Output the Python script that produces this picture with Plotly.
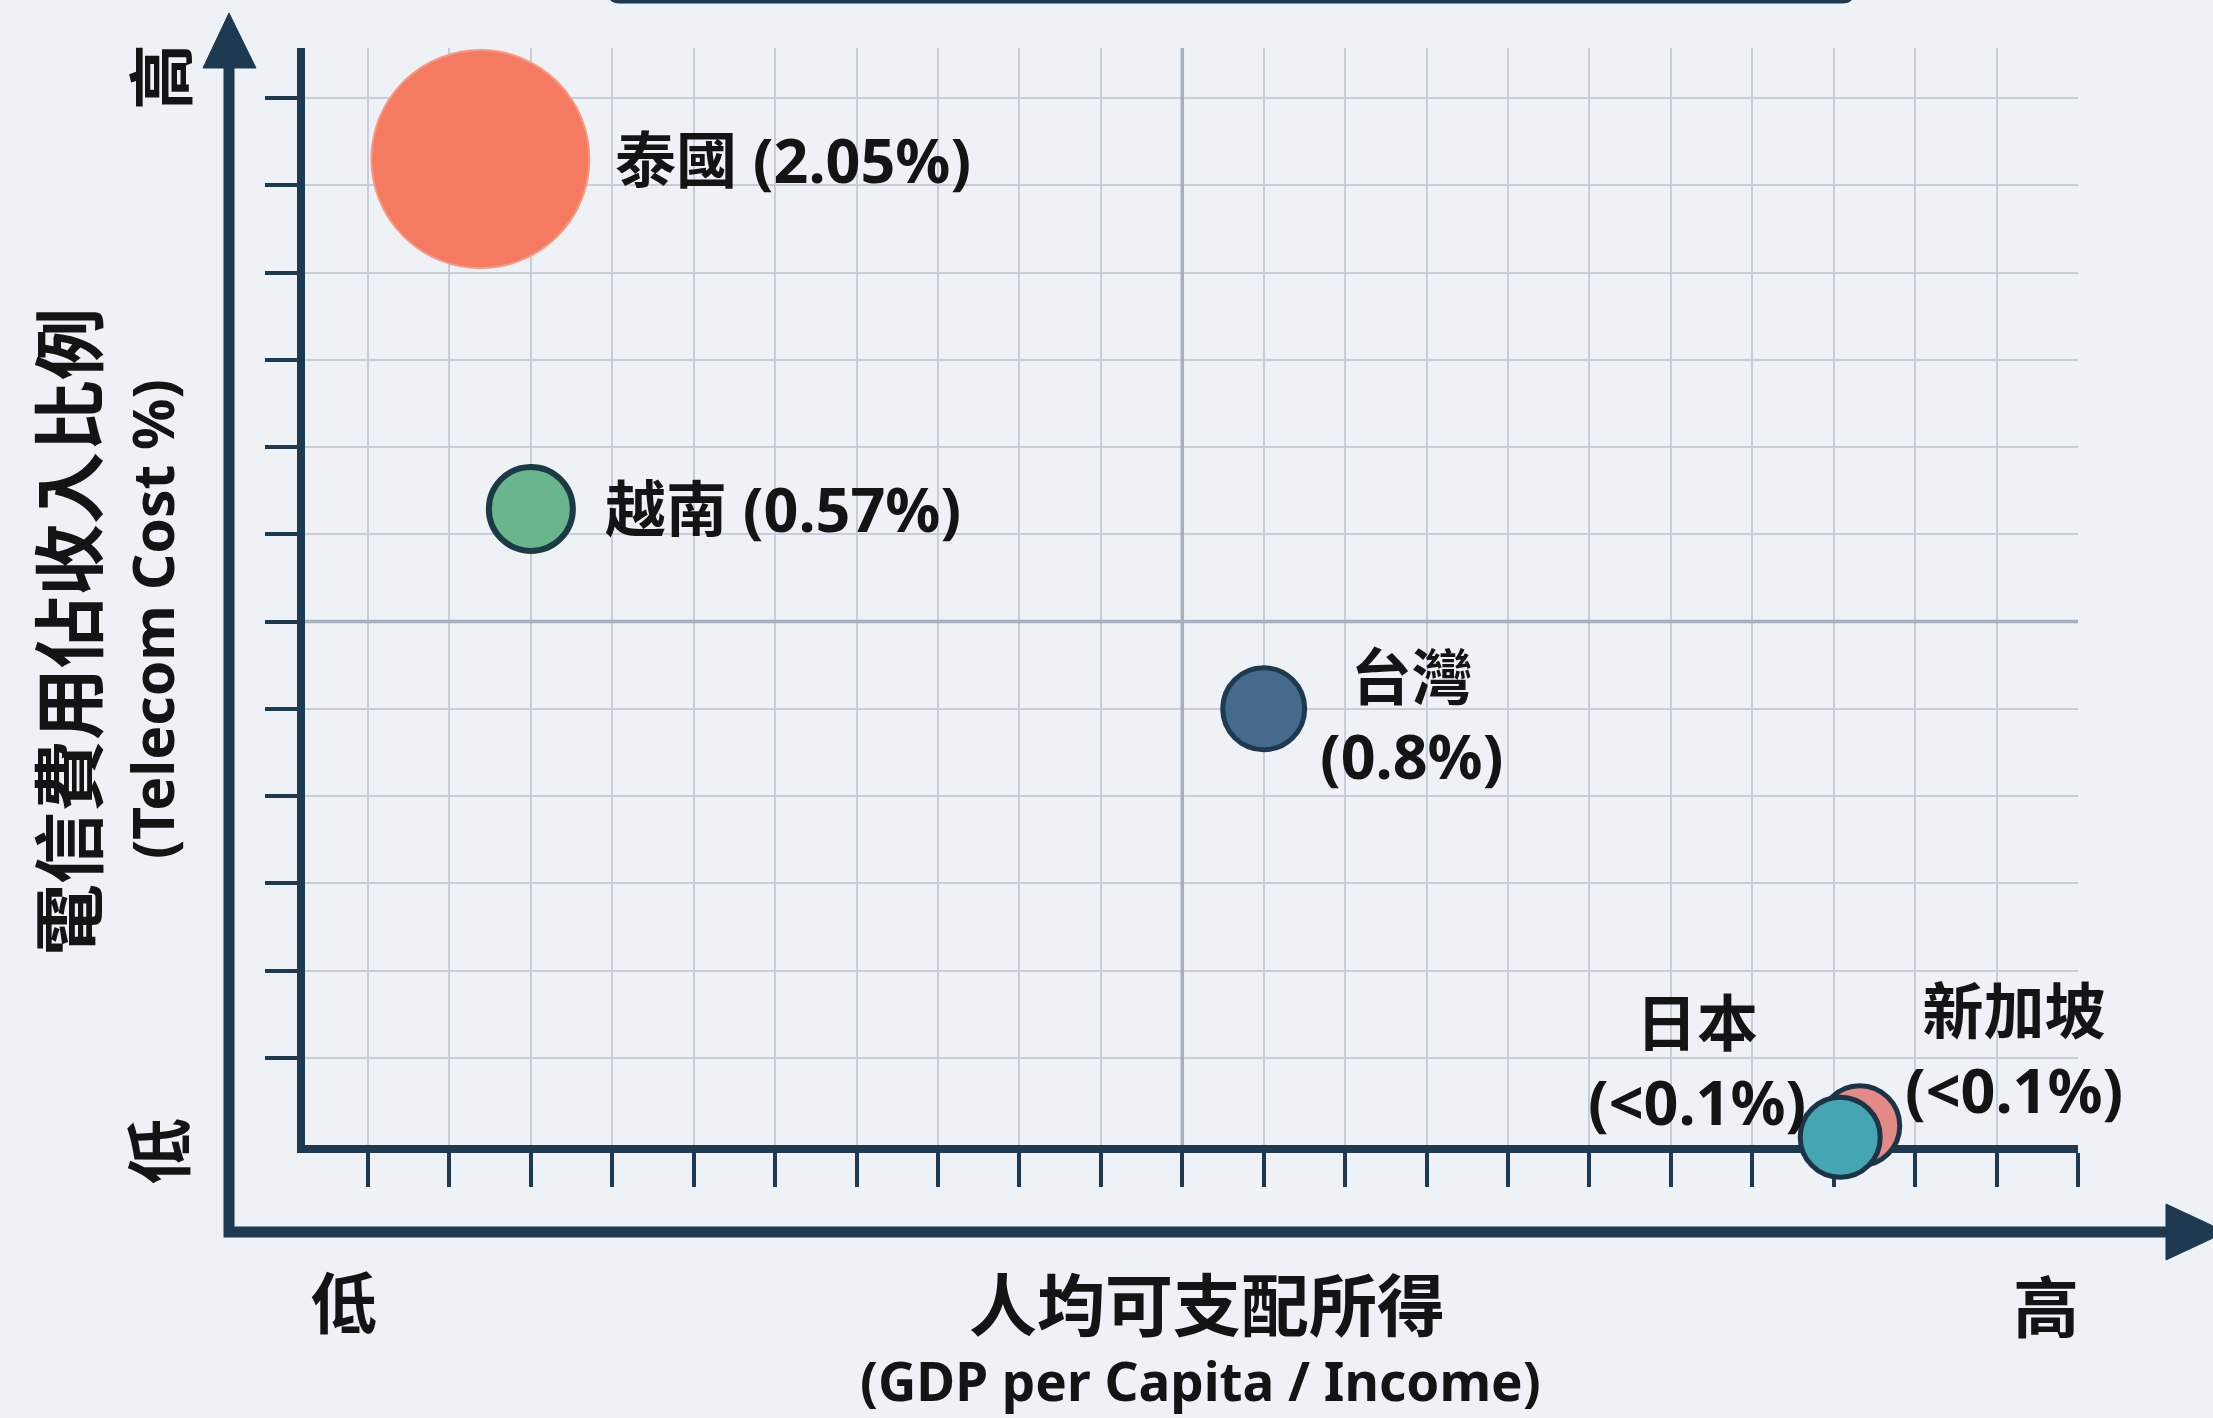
import plotly.graph_objects as go

# ---------------- data ----------------
countries = ["泰國", "越南", "台灣", "新加坡", "日本"]
cost_labels = ["2.05%", "0.57%", "0.8%", "<0.1%", "<0.1%"]
# schematic positions (grid units: income index, telecom-cost index)
income_pos = [2.38, 3.0, 12.0, 19.32, 19.08]
cost_pos = [11.3, 7.29, 5.0, 0.22, 0.09]

x_axis_title = "人均可支配所得"
x_axis_sub = "(GDP per Capita / Income)"
y_axis_title = "電信費用佔收入比例"
y_axis_sub = "(Telecom Cost %)"
low_label, high_label = "低", "高"

# ---------------- style ----------------
W, H = 2213, 1418
BG = "#eef2f6"
DARK = "#1d3a51"
TXT = "#141414"
GRID = "#c6cfd9"
MAJOR = "#a6b1bd"
FONT = "Noto Sans, Noto Sans CJK TC, sans-serif"

fills = ["#f47b61", "#6ab58d", "#456a8b", "#e38a86", "#45a5b2"]
outlines = ["#f69a84", "#1b3a44", "#1d3a51", "#1b3447", "#1b3447"]
outline_w = [2, 6, 5, 5, 5]
diam = [218, 84, 82, 80, 80]

# label placement (pixel shifts from bubble centre)
lab_shift = [(133, 0, "left"), (72, 0, "left"), (148, -7, "center"),
             (154, 76, "center"), (-143, 75, "center")]
lab_two_lines = [False, False, True, True, True]


def px(x):
    return x / W


def py(y):
    return 1 - y / H


def path(points, close=False):
    s = "M " + " L ".join(f"{px(a):.5f},{py(b):.5f}" for a, b in points)
    return s + (" Z" if close else "")


# plot-area geometry (pixels)
L_, R_, T_, B_ = 305, 2078, 48, 1145
x_range = [1 - 63 / 81.43, 22]
y_range = [0, (B_ - T_) / 87.25]

fig = go.Figure()
fig.add_trace(go.Scatter(
    x=income_pos, y=cost_pos, mode="markers",
    marker=dict(size=diam, color=fills, opacity=1,
                line=dict(color=outlines, width=outline_w)),
    cliponaxis=False, hoverinfo="skip", showlegend=False,
))

annotations = []
for i, c in enumerate(countries):
    dx, dy, anc = lab_shift[i]
    txt = f"{c}<br>({cost_labels[i]})" if lab_two_lines[i] else f"{c} ({cost_labels[i]})"
    txt = txt.replace("<0", "&lt;0")
    annotations.append(dict(
        x=income_pos[i], y=cost_pos[i], xref="x", yref="y", text=txt,
        showarrow=False, xanchor=anc, yanchor="middle", align="center",
        xshift=dx, yshift=dy,
        font=dict(family=FONT, size=61, color=TXT, weight=700)))


def pa(text, x, y, size, angle=0):
    annotations.append(dict(
        x=px(x), y=py(y), xref="paper", yref="paper", text=text,
        showarrow=False, xanchor="center", yanchor="middle", textangle=angle,
        font=dict(family=FONT, size=size, color=TXT, weight=700)))


pa(x_axis_title, 1207, 1304, 68)
pa(x_axis_sub, 1200, 1380, 53)
pa(y_axis_title, 68, 632, 72, -90)
pa(y_axis_sub, 152, 619, 57, -90)
pa(high_label, 160, 77, 66, -90)
pa(low_label, 158, 1151, 66, -90)
pa(low_label, 344, 1302, 66)
pa(high_label, 2046, 1306, 66)

shapes = [
    # outer arrow axes
    dict(type="path", xref="paper", yref="paper",
         path=path([(229, 64), (229, 1232), (2170, 1232)]),
         line=dict(color=DARK, width=11), layer="above"),
    dict(type="path", xref="paper", yref="paper",
         path=path([(203, 68), (229, 13), (256, 68)], close=True),
         fillcolor=DARK, line=dict(color=DARK, width=1)),
    dict(type="path", xref="paper", yref="paper",
         path=path([(2166, 1204), (2226, 1232), (2166, 1260)], close=True),
         fillcolor=DARK, line=dict(color=DARK, width=1)),
    # top title box edge (cut off)
    dict(type="path", xref="paper", yref="paper",
         path=f"M {px(610)},{py(-40)} L {px(610)},{py(-8)} Q {px(610)},{py(1)} {px(620)},{py(1)} "
              f"L {px(1842)},{py(1)} Q {px(1852)},{py(1)} {px(1852)},{py(-8)} L {px(1852)},{py(-40)}",
         line=dict(color=DARK, width=5), fillcolor="#f4f7fa"),
    # major quadrant lines
    dict(type="line", xref="x", yref="y", x0=11, x1=11, y0=y_range[0], y1=y_range[1],
         line=dict(color=MAJOR, width=3.5), layer="between"),
    dict(type="line", xref="x", yref="y", x0=x_range[0], x1=x_range[1], y0=6, y1=6,
         line=dict(color=MAJOR, width=3.5), layer="between"),
]

fig.update_layout(
    width=W, height=H, margin=dict(l=0, r=0, t=0, b=0),
    paper_bgcolor=BG, plot_bgcolor=BG,
    xaxis=dict(domain=[px(L_), px(R_)], range=x_range, tickvals=list(range(1, 23)),
               showticklabels=False, ticks="outside", ticklen=34, tickwidth=4,
               tickcolor=DARK, showgrid=True, gridcolor=GRID, gridwidth=2,
               zeroline=False, showline=True, linecolor=DARK, linewidth=8,
               layer="below traces", fixedrange=True),
    yaxis=dict(domain=[py(B_), py(T_)], range=y_range, tickvals=list(range(1, 13)),
               showticklabels=False, ticks="outside", ticklen=32, tickwidth=4,
               tickcolor=DARK, showgrid=True, gridcolor=GRID, gridwidth=2,
               zeroline=False, showline=True, linecolor=DARK, linewidth=8,
               layer="below traces", fixedrange=True),
    annotations=annotations, shapes=shapes,
)

fig.write_html(
    "out.html",
    config={"displayModeBar": False},
    post_script="document.body.style.margin='0';document.body.style.overflow='hidden';"
                "document.body.style.background='#eef2f6';",
)
